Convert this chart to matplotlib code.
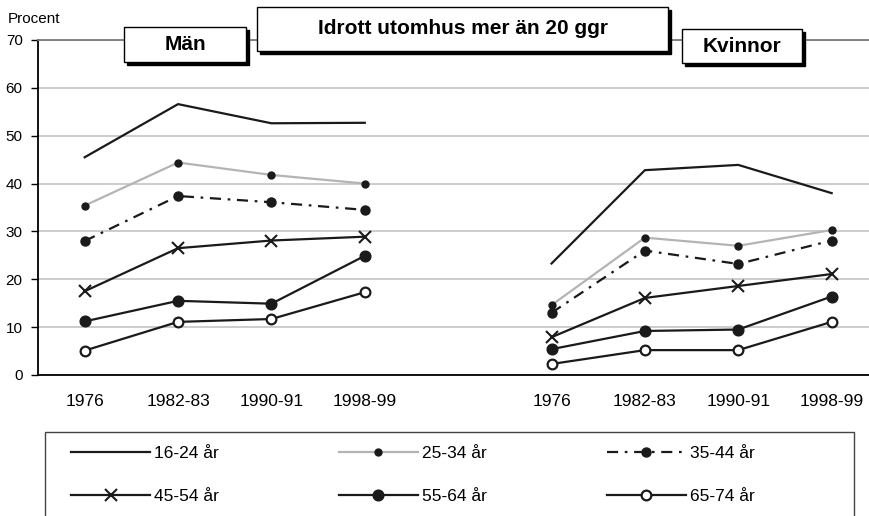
import matplotlib
matplotlib.use("Agg")
import matplotlib.pyplot as plt
from matplotlib.patches import Rectangle

plt.rcParams['font.family'] = ['Liberation Sans', 'DejaVu Sans']

periods = ["1976", "1982-83", "1990-91", "1998-99"]
groups = ["Män", "Kvinnor"]
title = "Idrott utomhus mer än 20 ggr"
ylabel = "Procent"
age_labels = ["16-24 år", "25-34 år", "35-44 år", "45-54 år", "55-64 år", "65-74 år"]

men_16_24 = [45.5, 56.6, 52.6, 52.7]
men_25_34 = [35.4, 44.4, 41.8, 40.0]
men_35_44 = [28.0, 37.4, 36.1, 34.5]
men_45_54 = [17.5, 26.5, 28.1, 28.9]
men_55_64 = [11.2, 15.5, 14.9, 24.9]
men_65_74 = [5.1, 11.1, 11.7, 17.3]

women_16_24 = [23.3, 42.8, 43.9, 38.0]
women_25_34 = [14.6, 28.7, 27.0, 30.3]
women_35_44 = [13.0, 26.0, 23.2, 28.1]
women_45_54 = [7.9, 16.1, 18.6, 21.1]
women_55_64 = [5.4, 9.2, 9.5, 16.4]
women_65_74 = [2.3, 5.2, 5.2, 11.1]

men = [men_16_24, men_25_34, men_35_44, men_45_54, men_55_64, men_65_74]
women = [women_16_24, women_25_34, women_35_44, women_45_54, women_55_64, women_65_74]

styles = [
    dict(color="#1a1a1a", lw=1.6, ls="-", marker=None),
    dict(color="#b4b4b4", lw=1.6, ls="-", marker="o", ms=5.0, mfc="#1a1a1a", mec="#1a1a1a"),
    dict(color="#1a1a1a", lw=1.6, ls=(0, (5, 3, 1.2, 3)), marker="o", ms=6.5, mfc="#1a1a1a", mec="#1a1a1a"),
    dict(color="#1a1a1a", lw=1.6, ls="-", marker="x", ms=8.6, mew=1.5, mec="#1a1a1a"),
    dict(color="#1a1a1a", lw=1.6, ls="-", marker="o", ms=7.7, mfc="#1a1a1a", mec="#1a1a1a"),
    dict(color="#1a1a1a", lw=1.6, ls="-", marker="o", ms=7.0, mfc="white", mec="#1a1a1a", mew=1.6),
]

W, H = 869, 516
fig = plt.figure(figsize=(W / 100, H / 100), dpi=100)
ax = fig.add_axes([38 / W, (H - 375) / H, 831 / W, 335 / H])

xm = list(range(len(periods)))
xw = [i + len(periods) + 1 for i in range(len(periods))]

handles = []
for i in range(len(age_labels)):
    st = dict(styles[i])
    h, = ax.plot(xm, men[i], **st, label=age_labels[i], zorder=3)
    ax.plot(xw, women[i], **st, zorder=3)
    handles.append(h)

ax.set_xlim(-0.5, 8.4)
ax.set_ylim(0, 70)
ax.set_yticks(range(0, 71, 10))
ax.set_xticks(xm + xw)
ax.set_xticklabels(periods + periods)
ax.tick_params(axis="x", length=0, pad=14, labelsize=12.5)
ax.tick_params(axis="y", length=5, width=1, direction="out", labelsize=11, pad=6)
ax.yaxis.grid(True, color="#c8c8c8", lw=1.3)
ax.set_axisbelow(True)
ax.spines["right"].set_visible(False)
ax.spines["top"].set_color("#7a7a7a")
ax.spines["top"].set_linewidth(1.3)
ax.spines["left"].set_linewidth(1.3)
ax.spines["bottom"].set_linewidth(1.3)

fig.text(8 / W, (H - 19) / H, ylabel, fontsize=11, va="center", ha="left")


def box(x0, y0, x1, y1, text, ty, fs):
    # pixel coords, top-down
    fig.patches.append(Rectangle(((x0 + 3) / W, (H - y1 - 3) / H), (x1 - x0) / W, (y1 - y0) / H,
                                 transform=fig.transFigure, facecolor="black", edgecolor="black", zorder=5))
    fig.patches.append(Rectangle((x0 / W, (H - y1) / H), (x1 - x0) / W, (y1 - y0) / H,
                                 transform=fig.transFigure, facecolor="white", edgecolor="black", lw=1.0, zorder=6))
    fig.text((x0 + x1) / 2 / W, (H - ty) / H, text, ha="center", va="center", fontsize=fs,
             fontweight="bold", zorder=7)


box(124, 27, 246, 62, groups[0], 44, 15)
box(257, 7, 668, 51, title, 29, 15)
box(682, 29, 802, 63, groups[1], 46, 15)

fig.patches.append(Rectangle((45 / W, -0.01), 809 / W, (H - 432) / H + 0.01, transform=fig.transFigure,
                             facecolor="white", edgecolor="#444444", lw=1.0, zorder=1))

order = [0, 3, 1, 4, 2, 5]
fs = 12.5
fpx = fs * 100 / 72
leg = fig.legend([handles[k] for k in order], [age_labels[k] for k in order], ncol=3,
                 loc="upper left", bbox_to_anchor=(71 / W, (H - 446) / H), frameon=False,
                 handlelength=79 / fpx, handletextpad=4 / fpx, columnspacing=120 / fpx, labelspacing=1.58,
                 borderpad=0, borderaxespad=0, numpoints=1, fontsize=fs)
leg.set_zorder(4)

fig.savefig("out.png", dpi=100)
